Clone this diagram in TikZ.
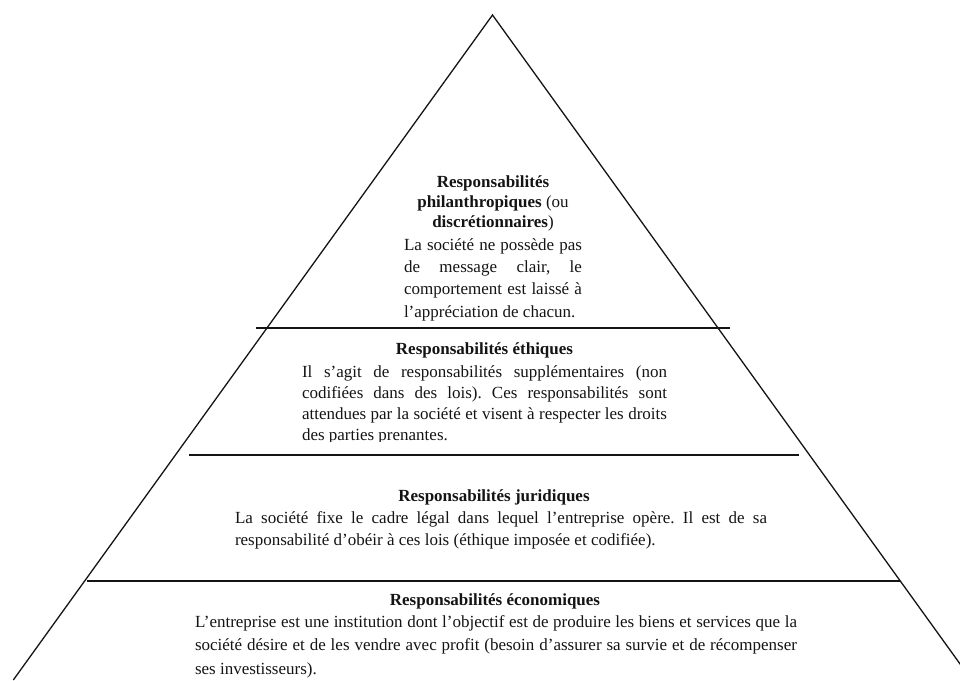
\documentclass[tikz,border=0pt]{standalone}
\usepackage{fontspec}
\setmainfont{Liberation Serif}
\definecolor{ink}{RGB}{20,20,20}
\begin{document}
\frenchspacing
\hyphenpenalty=10000
\begin{tikzpicture}[x=1pt,y=-1pt,
  side/.style={draw=ink,line width=1.3pt},
  tier/.style={draw=ink,line width=2pt},
  ttl/.style={inner sep=0pt,anchor=base,align=center,text=ink,font=\fontsize{17}{20}\selectfont},
  body/.style={inner sep=0pt,anchor=base,align=justify,text=ink,font=\fontsize{17}{21.3}\selectfont}]
\useasboundingbox (0,0) rectangle (960,680);
\begin{scope}
  \clip (0,0) rectangle (960,680);
  \coordinate (bl) at (13.3,680);
  \coordinate (apex) at (492.5,15);
  \coordinate (br) at (971.6,680);
  \draw[side] (bl) -- (apex) -- (br);
\end{scope}
% tier lines
\coordinate (l1a) at (256,328.3);   \coordinate (l1b) at (730,328.3);
\coordinate (l2a) at (189,454.5);   \coordinate (l2b) at (799,454.5);
\coordinate (l3a) at (86.7,580.7);  \coordinate (l3b) at (900,580.7);
\draw[tier] (l1a) -- (l1b);
\draw[tier] (l2a) -- (l2b);
\draw[tier] (l3a) -- (l3b);
% philanthropic (base anchor = last line here)
\node[ttl] (t1) at (493,227) {\textbf{Responsabilités}\\\textbf{philanthropiques} (ou\\\textbf{discrétionnaires})};
\node[body,text width=178pt,font=\fontsize{17}{22.4}\selectfont] (b1) at (493,250)
  {La société ne possède pas\linebreak de message clair, le\linebreak comportement est laissé à\linebreak l’appréciation de chacun.};
% ethical
\begin{scope}
  \clip (280,332) rectangle (700,441.5);
  \node[ttl] (t2) at (484.5,354.3) {\textbf{Responsabilités éthiques}};
  \node[body,text width=365pt] (b2) at (484.5,377)
    {Il s’agit de responsabilités supplémentaires (non\linebreak codifiées dans des lois). Ces responsabilités sont\linebreak attendues par la société et visent à respecter les droits\linebreak des parties prenantes.};
\end{scope}
% legal
\node[ttl] (t3) at (494,501) {\textbf{Responsabilités juridiques}};
\node[body,text width=532pt,font=\fontsize{17}{22.5}\selectfont] (b3) at (501,523)
  {La société fixe le cadre légal dans lequel l’entreprise opère. Il est de sa\linebreak responsabilité d’obéir à ces lois (éthique imposée et codifiée).};
% economic
\node[ttl] (t4) at (495,605) {\textbf{Responsabilités économiques}};
\node[body,text width=602pt,font=\fontsize{17}{23.5}\selectfont] (b4) at (496,627)
  {L’entreprise est une institution dont l’objectif est de produire les biens et services que la\linebreak société désire et de les vendre avec profit (besoin d’assurer sa survie et de récompenser\linebreak ses investisseurs).};
\end{tikzpicture}
\end{document}
